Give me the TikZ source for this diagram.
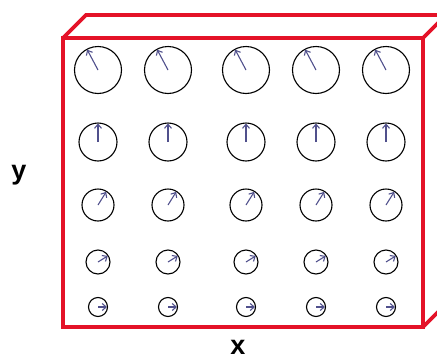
\documentclass[tikz,border=0pt]{standalone}
\usepackage{fontspec}
\setmainfont{Liberation Sans}
\usetikzlibrary{arrows.meta,calc}
\definecolor{boxred}{RGB}{228,18,40}
\definecolor{spin}{RGB}{80,80,140}
\tikzset{
  boxline/.style={draw=boxred, line width=3.6pt, line join=miter},
  ring/.style={draw=black, line width=1.1pt},
  spinarrow/.style={draw=spin, line width=1.1pt, -{Straight Barb[length=4pt,width=7pt]}},
  axislabel/.style={font=\bfseries\fontsize{27}{30}\selectfont, text=black, inner sep=0pt}
}
\begin{document}
\begin{tikzpicture}[x=1pt,y=-1pt]
\useasboundingbox (0,0) rectangle (437,362);
\clip (0,0) rectangle (437,362);
% box
\coordinate (f1) at (63,38);
\coordinate (f2) at (423,38);
\coordinate (f3) at (423,327);
\coordinate (f4) at (63,327);
\coordinate (b1) at (86,15);
\coordinate (b2) at (446,15);
\coordinate (b3) at (446,304);
\draw[boxline] (f1) -- (f2) -- (f3) -- (f4) -- cycle;
\draw[boxline] (f1) -- (b1) -- (b2) -- (f2);
\draw[boxline] (b2) -- (b3) -- (f3);
% circles: rows with y, radius, angle (screen angle, y axis flipped)
\foreach \y/\r/\a [count=\i] in {70/23.5/118, 142/19/90, 205/16/58, 262/12/32, 307/9.5/0}{
  \foreach \x [count=\j] in {98,168,246,316,386}{
    \node[ring, circle, minimum size=2*\r pt, inner sep=0pt] (c\i\j) at (\x,\y) {};
    \coordinate (t\i\j) at ($(c\i\j.center)+(-\a:{\r-0.5})$);
    \draw[spinarrow] (c\i\j.center) -- (t\i\j);
  }
}
% labels
\node[axislabel] (ly) at (19,175) {y};
\node[axislabel] (lx) at (238,347) {x};
\end{tikzpicture}
\end{document}
